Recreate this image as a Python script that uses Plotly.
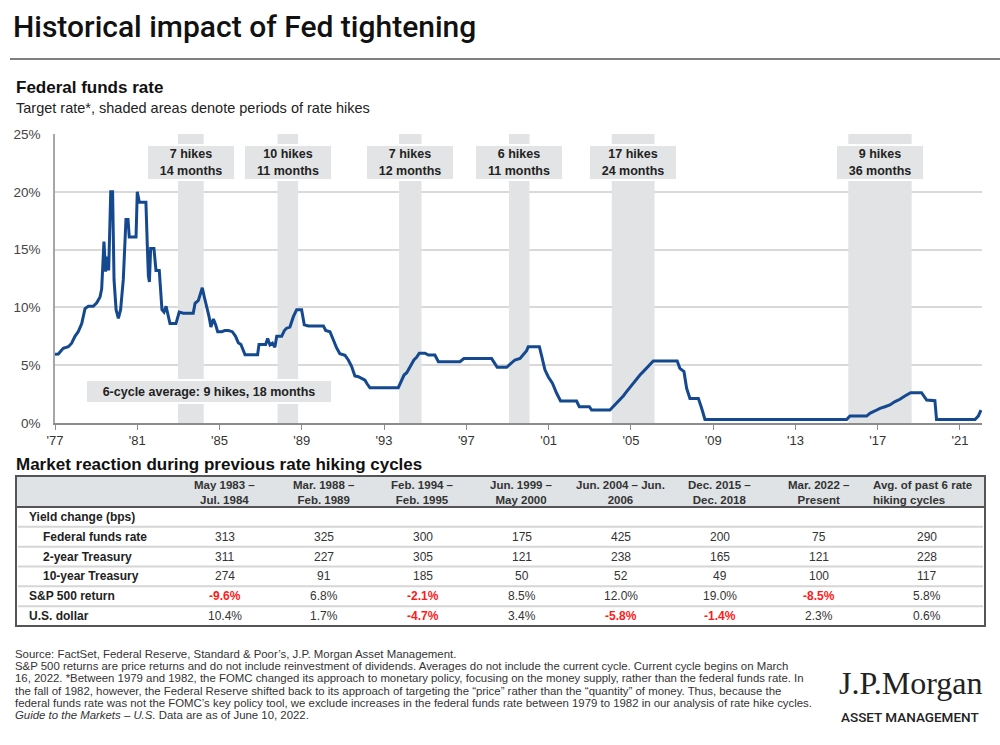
import plotly.graph_objects as go

W, H = 1000, 745

# ---------------- data ----------------
ffr_dates = [
    1977.35, 1977.51, 1977.75, 1978.00, 1978.16, 1978.32, 1978.48, 1978.65, 1978.81, 1978.97,
    1979.21, 1979.38, 1979.54, 1979.62, 1979.73, 1979.81, 1979.89, 1979.96, 1980.06, 1980.15,
    1980.22, 1980.32, 1980.43, 1980.54, 1980.67, 1980.80, 1980.90, 1980.96, 1981.29, 1981.35,
    1981.45, 1981.77, 1981.84, 1981.89, 1981.94, 1982.00, 1982.16, 1982.26, 1982.42, 1982.55,
    1982.65, 1982.75, 1982.94, 1983.23, 1983.39, 1983.59, 1984.07, 1984.16, 1984.32, 1984.45,
    1984.51, 1984.61, 1984.72, 1984.84, 1984.93, 1985.05, 1985.16, 1985.26, 1985.45, 1985.61,
    1985.78, 1985.97, 1986.13, 1986.26, 1986.39, 1986.51, 1986.59, 1987.20, 1987.27, 1987.59,
    1987.69, 1987.80, 1987.92, 1988.04, 1988.13, 1988.37, 1988.50, 1988.61, 1988.77, 1988.94,
    1989.10, 1989.34, 1989.47, 1989.67, 1990.40, 1990.51, 1990.72, 1990.88, 1991.04, 1991.20,
    1991.45, 1991.61, 1991.77, 1991.93, 1992.10, 1992.26, 1992.42, 1992.53, 1992.66, 1994.04,
    1994.20, 1994.32, 1994.45, 1994.58, 1994.69, 1994.80, 1994.93, 1995.06, 1995.34, 1995.50,
    1995.82, 1995.99, 1997.04, 1997.23, 1998.58, 1998.74, 1998.85, 1999.31, 1999.50, 1999.71,
    1999.96, 2000.09, 2000.28, 2000.36, 2000.90, 2001.01, 2001.17, 2001.33, 2001.54, 2001.74,
    2001.93, 2002.71, 2002.84, 2003.33, 2003.44, 2004.33, 2004.49, 2004.66, 2004.82, 2004.98,
    2005.14, 2005.30, 2005.47, 2005.63, 2005.79, 2005.95, 2006.11, 2006.28, 2006.44, 2007.60,
    2007.73, 2007.93, 2008.06, 2008.22, 2008.63, 2008.79, 2008.95, 2015.84, 2016.00, 2016.81,
    2016.97, 2017.21, 2017.46, 2017.70, 2017.94, 2018.19, 2018.43, 2018.67, 2018.95, 2019.48,
    2019.73, 2020.13, 2020.21, 2022.08, 2022.24, 2022.37,
]
ffr_values = [
    5.95, 5.97, 6.46, 6.60, 6.90, 7.50, 7.90, 8.60, 9.90, 10.10,
    10.10, 10.40, 10.90, 11.60, 15.70, 13.10, 14.40, 13.20, 20.00, 20.00,
    12.40, 9.80, 9.05, 9.80, 12.40, 17.60, 17.60, 16.10, 16.10, 20.00,
    19.10, 19.10, 15.25, 12.70, 12.20, 15.10, 15.10, 13.20, 13.20, 9.80,
    9.60, 10.10, 8.60, 8.60, 9.60, 9.50, 9.50, 10.35, 10.60, 11.40,
    11.70, 10.90, 10.10, 9.20, 8.30, 9.00, 8.50, 7.90, 7.90, 8.00,
    8.00, 7.90, 7.50, 6.95, 6.80, 6.30, 5.90, 5.90, 6.80, 6.80,
    7.30, 6.75, 6.90, 6.55, 7.50, 7.50, 8.00, 8.20, 8.30, 9.20,
    9.80, 9.80, 8.50, 8.40, 8.40, 8.00, 7.90, 7.20, 6.50, 6.00,
    5.85, 5.45, 4.90, 4.07, 4.00, 3.86, 3.70, 3.37, 3.05, 3.05,
    3.60, 4.15, 4.35, 4.73, 5.16, 5.45, 5.68, 6.03, 6.03, 5.88,
    5.88, 5.30, 5.30, 5.57, 5.57, 5.16, 4.82, 4.82, 5.16, 5.45,
    5.59, 5.88, 6.26, 6.60, 6.60, 5.80, 4.60, 4.00, 3.43, 2.57,
    1.90, 1.90, 1.41, 1.41, 1.12, 1.12, 1.41, 1.70, 2.05, 2.34,
    2.71, 3.09, 3.43, 3.78, 4.15, 4.44, 4.73, 5.02, 5.36, 5.36,
    4.73, 4.44, 3.00, 2.13, 2.13, 1.27, 0.30, 0.30, 0.60, 0.60,
    0.84, 1.04, 1.27, 1.41, 1.56, 1.85, 2.05, 2.34, 2.62, 2.62,
    1.99, 1.93, 0.30, 0.30, 0.60, 1.12,
]

hike_start = [1983.33, 1988.17, 1994.08, 1999.42, 2004.42, 2015.92]
hike_end = [1984.58, 1989.17, 1995.17, 2000.42, 2006.50, 2019.00]
hike_counts = [7, 10, 7, 6, 17, 9]
hike_months = [14, 11, 12, 11, 24, 36]

tick_years = [1977, 1981, 1985, 1989, 1993, 1997, 2001, 2005, 2009, 2013, 2017, 2021]
y_ticks = [0, 5, 10, 15, 20, 25]

table_columns = [
    "May 1983 –<br>Jul. 1984", "Mar. 1988 –<br>Feb. 1989", "Feb. 1994 –<br>Feb. 1995",
    "Jun. 1999 –<br>May 2000", "Jun. 2004 – Jun.<br>2006", "Dec. 2015 –<br>Dec. 2018",
    "Mar. 2022 –<br>Present", "Avg. of past 6 rate<br>hiking cycles",
]
row_labels = ["Yield change (bps)", "Federal funds rate", "2-year Treasury",
              "10-year Treasury", "S&P 500 return", "U.S. dollar"]
row_indent = [False, True, True, True, False, False]
fed_funds_bps = [313, 325, 300, 175, 425, 200, 75, 290]
two_year_bps = [311, 227, 305, 121, 238, 165, 121, 228]
ten_year_bps = [274, 91, 185, 50, 52, 49, 100, 117]
sp500_return = [-9.6, 6.8, -2.1, 8.5, 12.0, 19.0, -8.5, 5.8]
usd_change = [10.4, 1.7, -4.7, 3.4, -5.8, -1.4, 2.3, 0.6]

footnote_lines = [
    "Source: FactSet, Federal Reserve, Standard & Poor’s, J.P. Morgan Asset Management.",
    "S&P 500 returns are price returns and do not include reinvestment of dividends. Averages do not include the current cycle. Current cycle begins on March",
    "16, 2022. *Between 1979 and 1982, the FOMC changed its approach to monetary policy, focusing on the money supply, rather than the federal funds rate. In",
    "the fall of 1982, however, the Federal Reserve shifted back to its approach of targeting the “price” rather than the “quantity” of money. Thus, because the",
    "federal funds rate was not the FOMC’s key policy tool, we exclude increases in the federal funds rate between 1979 to 1982 in our analysis of rate hike cycles.",
    "<i>Guide to the Markets – U.S.</i> Data are as of June 10, 2022.",
]

# ---------------- styling ----------------
SANS = "Liberation Sans, Arial, Helvetica, sans-serif"
LINE_BLUE = "#15498f"
BAND = "#e1e3e5"
BOX = "#e3e4e5"
TXT = "#222222"


def px(x):
    return x / W


def py(y):
    return (H - y) / H


fig = go.Figure()

fig.add_trace(go.Scatter(
    x=ffr_dates, y=ffr_values, mode="lines",
    line=dict(color=LINE_BLUE, width=3),
    hoverinfo="skip", showlegend=False,
))

shapes = []
annotations = []

# shaded hike periods
for s, e in zip(hike_start, hike_end):
    shapes.append(dict(type="rect", xref="x", yref="y", x0=s, x1=e, y0=0, y1=25,
                       fillcolor=BAND, line=dict(width=0), layer="between"))

# hike labels
for s, e, n, m in zip(hike_start, hike_end, hike_counts, hike_months):
    annotations.append(dict(
        x=(s + e) / 2, y=22.5, xref="x", yref="y", xanchor="center", yanchor="middle",
        text=f"<b>{n} hikes</b><br><b>{m} months</b>",
        showarrow=False, font=dict(family=SANS, size=12.5, color=TXT),
        bgcolor=BOX, bordercolor="white", borderwidth=2, borderpad=1,
        width=84, height=31, align="center",
    ))

annotations.append(dict(
    x=px(209), y=2.72, xref="paper", yref="y", xanchor="center", yanchor="middle",
    text="<b>6-cycle average: 9 hikes, 18 months</b>",
    showarrow=False, font=dict(family=SANS, size=12.5, color=TXT),
    bgcolor=BOX, bordercolor="white", borderwidth=2, borderpad=1,
    width=242, height=19, align="center",
))

# titles
annotations.append(dict(x=px(11), y=py(26), xref="paper", yref="paper", xanchor="left", yanchor="middle",
                        text="Historical impact of Fed tightening", showarrow=False,
                        font=dict(family="Roboto, " + SANS, size=30, weight=500, color="#111111")))
shapes.append(dict(type="line", xref="paper", yref="paper", x0=px(10), x1=1.0, y0=py(59), y1=py(59),
                   line=dict(color="#555555", width=1.5)))
annotations.append(dict(x=px(14), y=py(87), xref="paper", yref="paper", xanchor="left", yanchor="middle",
                        text="<b>Federal funds rate</b>", showarrow=False,
                        font=dict(family=SANS, size=17, color="#111111")))
annotations.append(dict(x=px(14), y=py(108), xref="paper", yref="paper", xanchor="left", yanchor="middle",
                        text="Target rate*, shaded areas denote periods of rate hikes", showarrow=False,
                        font=dict(family=SANS, size=14.5, color="#222222")))
annotations.append(dict(x=px(14), y=py(464), xref="paper", yref="paper", xanchor="left", yanchor="middle",
                        text="<b>Market reaction during previous rate hiking cycles</b>", showarrow=False,
                        font=dict(family=SANS, size=17, color="#111111")))

# ---------------- table ----------------
t_left, t_right, t_top, t_bottom = 16, 985, 476, 626
head_bottom = 507
label_w = 159
last_w = 117
data_w = (t_right - t_left - label_w - last_w) / 7
col_left = [t_left + label_w + i * data_w for i in range(8)]
col_width = [data_w] * 7 + [last_w]
row_h = (t_bottom - head_bottom) / len(row_labels)

shapes.append(dict(type="rect", xref="paper", yref="paper", x0=px(t_left), x1=px(t_right),
                   y0=py(head_bottom), y1=py(t_top), fillcolor="#dfe3e6", line=dict(width=0), layer="below"))
for k in range(1, len(row_labels)):
    yy = head_bottom + k * row_h
    shapes.append(dict(type="line", xref="paper", yref="paper", x0=px(t_left + 2), x1=px(t_right - 2),
                       y0=py(yy), y1=py(yy), line=dict(color="#d6d6d6", width=2)))
shapes.append(dict(type="line", xref="paper", yref="paper", x0=px(t_left), x1=px(t_right),
                   y0=py(head_bottom), y1=py(head_bottom), line=dict(color="#555555", width=2)))
shapes.append(dict(type="rect", xref="paper", yref="paper", x0=px(t_left), x1=px(t_right),
                   y0=py(t_bottom), y1=py(t_top), line=dict(color="#555555", width=2)))

head_mid = (t_top + head_bottom) / 2
for i, h in enumerate(table_columns):
    last = i == len(table_columns) - 1
    annotations.append(dict(
        x=px(col_left[i] + 3) if last else px(col_left[i] + col_width[i] / 2),
        y=py(head_mid + 1), xref="paper", yref="paper",
        xanchor="left" if last else "center", yanchor="middle",
        align="left" if last else "center",
        text="<b>" + h.replace("<br>", "</b><br><b>") + "</b>", showarrow=False,
        font=dict(family=SANS, size=11.5, color="#333333"),
    ))

for r, (lab, ind) in enumerate(zip(row_labels, row_indent)):
    yc = head_bottom + (r + 0.5) * row_h
    annotations.append(dict(
        x=px(t_left + (25 if ind else 11)), y=py(yc), xref="paper", yref="paper",
        xanchor="left", yanchor="middle", text=f"<b>{lab}</b>", showarrow=False,
        font=dict(family=SANS, size=12, color="#222222"),
    ))


def pct(v):
    return f"{v:.1f}%"


row_values = [None, fed_funds_bps, two_year_bps, ten_year_bps, sp500_return, usd_change]
for r, vals in enumerate(row_values):
    if vals is None:
        continue
    yc = head_bottom + (r + 0.5) * row_h
    for i, v in enumerate(vals):
        is_pct = r >= 4
        txt = pct(v) if is_pct else str(v)
        neg = v < 0
        annotations.append(dict(
            x=px(col_left[i] + col_width[i] / 2), y=py(yc), xref="paper", yref="paper",
            xanchor="center", yanchor="middle",
            text=f"<b>{txt}</b>" if neg else txt, showarrow=False,
            font=dict(family=SANS, size=12, color="#ff1a1a" if neg else "#333333"),
        ))

# ---------------- footnotes ----------------
for j, line in enumerate(footnote_lines):
    annotations.append(dict(
        x=px(13), y=py(654 + j * 12.2), xref="paper", yref="paper", xanchor="left", yanchor="middle",
        text=line, showarrow=False, font=dict(family=SANS, size=11.4, color="#333333"),
    ))

# logo
annotations.append(dict(x=px(910), y=py(683), xref="paper", yref="paper", xanchor="center", yanchor="middle",
                        text="J.P.Morgan", showarrow=False,
                        font=dict(family="Liberation Serif, Times New Roman, serif", size=32, color="#222222")))
annotations.append(dict(x=px(910), y=py(717), xref="paper", yref="paper", xanchor="center", yanchor="middle",
                        text="ASSET MANAGEMENT", showarrow=False,
                        font=dict(family="Roboto, " + SANS, size=13.5, weight=500, color="#222222")))

fig.update_layout(
    width=W, height=H,
    margin=dict(l=0, r=0, t=0, b=0, pad=0),
    paper_bgcolor="white", plot_bgcolor="white",
    showlegend=False,
    font=dict(family=SANS, color="#333333"),
    xaxis=dict(
        domain=[px(55), px(982)],
        range=[1977.35, 2022.42],
        tickvals=[y + 0.35 for y in tick_years],
        ticktext=["'" + str(y)[2:] for y in tick_years],
        ticks="outside", ticklen=5, tickcolor="#8c8c8c", tickwidth=1,
        showline=True, linecolor="#8c8c8c", linewidth=1.5,
        showgrid=False, zeroline=False, automargin=False,
        tickfont=dict(family=SANS, size=13, color="#333333"),
    ),
    yaxis=dict(
        domain=[py(423), py(134)],
        range=[0, 25],
        tickvals=y_ticks,
        ticktext=[f"{v}%" for v in y_ticks],
        ticks="", ticklabelstandoff=10,
        showline=True, linecolor="#a6a6a6", linewidth=1.5,
        showgrid=True, gridcolor="#d9d9d9", gridwidth=1.5,
        zeroline=False, automargin=False,
        tickfont=dict(family=SANS, size=13.5, color="#444444"),
    ),
    shapes=shapes,
    annotations=annotations,
)

fig.write_html("out.html", config={"displayModeBar": False},
               post_script="document.body.style.margin='0px';")
